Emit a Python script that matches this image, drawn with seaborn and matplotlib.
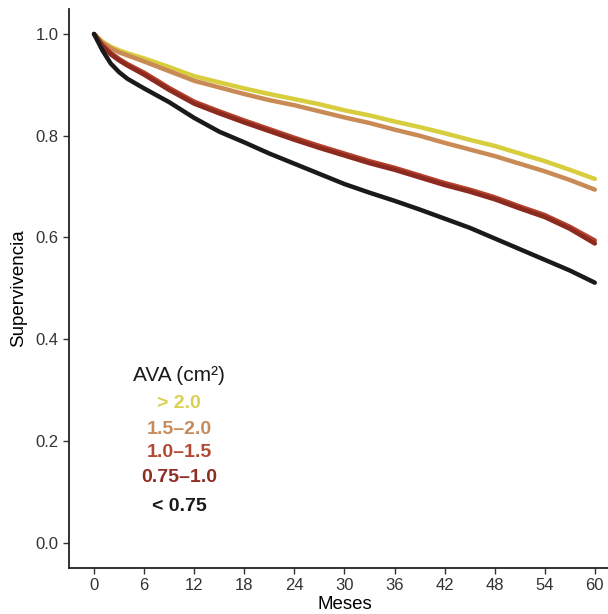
import numpy as np
import pandas as pd
import matplotlib
matplotlib.use('Agg')
import matplotlib.pyplot as plt
import seaborn as sns

# Kaplan-Meier style survival
months = [0, 1, 2, 3, 4, 6, 9, 12, 15, 18, 21, 24, 27, 30, 33, 36, 39, 42, 45, 48, 51, 54, 57, 60]

surv_gt20 = [1.0, 0.985, 0.975, 0.968, 0.962, 0.952, 0.935, 0.917, 0.905, 0.893, 0.882, 0.872,
             0.862, 0.850, 0.840, 0.828, 0.817, 0.805, 0.792, 0.780, 0.765, 0.750, 0.733, 0.715]
surv_15_20 = [1.0, 0.983, 0.972, 0.964, 0.958, 0.946, 0.927, 0.908, 0.895, 0.882, 0.870, 0.860,
              0.848, 0.836, 0.825, 0.812, 0.800, 0.786, 0.773, 0.760, 0.745, 0.730, 0.713, 0.694]
surv_10_15 = [1.0, 0.979, 0.963, 0.951, 0.941, 0.924, 0.894, 0.867, 0.848, 0.830, 0.813, 0.796,
              0.780, 0.765, 0.750, 0.737, 0.722, 0.707, 0.694, 0.679, 0.661, 0.644, 0.621, 0.594]
surv_075_10 = [1.0, 0.976, 0.960, 0.948, 0.938, 0.920, 0.890, 0.863, 0.844, 0.826, 0.809, 0.792,
               0.776, 0.761, 0.746, 0.733, 0.718, 0.703, 0.690, 0.675, 0.657, 0.640, 0.617, 0.588]
surv_lt075 = [1.0, 0.968, 0.942, 0.925, 0.912, 0.893, 0.866, 0.835, 0.808, 0.787, 0.765, 0.745,
              0.725, 0.705, 0.688, 0.672, 0.655, 0.637, 0.619, 0.598, 0.577, 0.556, 0.535, 0.511]

groups = ['> 2.0', '1.5–2.0', '1.0–1.5', '0.75–1.0', '< 0.75']
series = [surv_gt20, surv_15_20, surv_10_15, surv_075_10, surv_lt075]
line_colors = ['#d8cd3c', '#c98a55', '#b3412c', '#8c2a1f', '#1a1a1a']
text_colors = ['#d9d050', '#c68a5c', '#b04a35', '#8f2c24', '#1a1a1a']

df = pd.concat([pd.DataFrame({'Meses': months, 'Supervivencia': s, 'AVA': g})
                for g, s in zip(groups, series)], ignore_index=True)

sns.set_style('ticks')
plt.rcParams['font.family'] = ['Liberation Sans', 'DejaVu Sans']

fig = plt.figure(figsize=(6.08, 6.14), dpi=100)
ax = fig.add_axes([0.1135, 0.075, 0.906, 0.911])

sns.lineplot(data=df, x='Meses', y='Supervivencia', hue='AVA', hue_order=groups,
             palette=dict(zip(groups, line_colors)), linewidth=3.2, ax=ax, legend=False)

ax.set_xlim(-3, 63)
ax.set_ylim(-0.05, 1.05)
ax.set_xticks(range(0, 61, 6))
ax.set_yticks([0.0, 0.2, 0.4, 0.6, 0.8, 1.0])
ax.set_yticklabels(['0.0', '0.2', '0.4', '0.6', '0.8', '1.0'])
ax.tick_params(labelsize=12, colors='#333333', length=4, width=1, labelcolor='#333333')
ax.set_xlabel('Meses', fontsize=13.5, color='black', labelpad=2)
ax.set_ylabel('Supervivencia', fontsize=13.5, color='black', labelpad=6)
for side in ['top', 'right']:
    ax.spines[side].set_visible(False)
for side in ['left', 'bottom']:
    ax.spines[side].set_color('#222222')
    ax.spines[side].set_linewidth(1.3)

# hand-made legend
ax.text(10.2, 0.328, 'AVA (cm²)', fontsize=15, color='#1a1a1a', ha='center', va='center')
leg_y = [0.273, 0.222, 0.177, 0.128, 0.071]
for g, c, yy in zip(groups, text_colors, leg_y):
    ax.text(10.2, yy, g, fontsize=14, fontweight='bold', color=c, ha='center', va='center')

fig.savefig('out.png', dpi=100)
